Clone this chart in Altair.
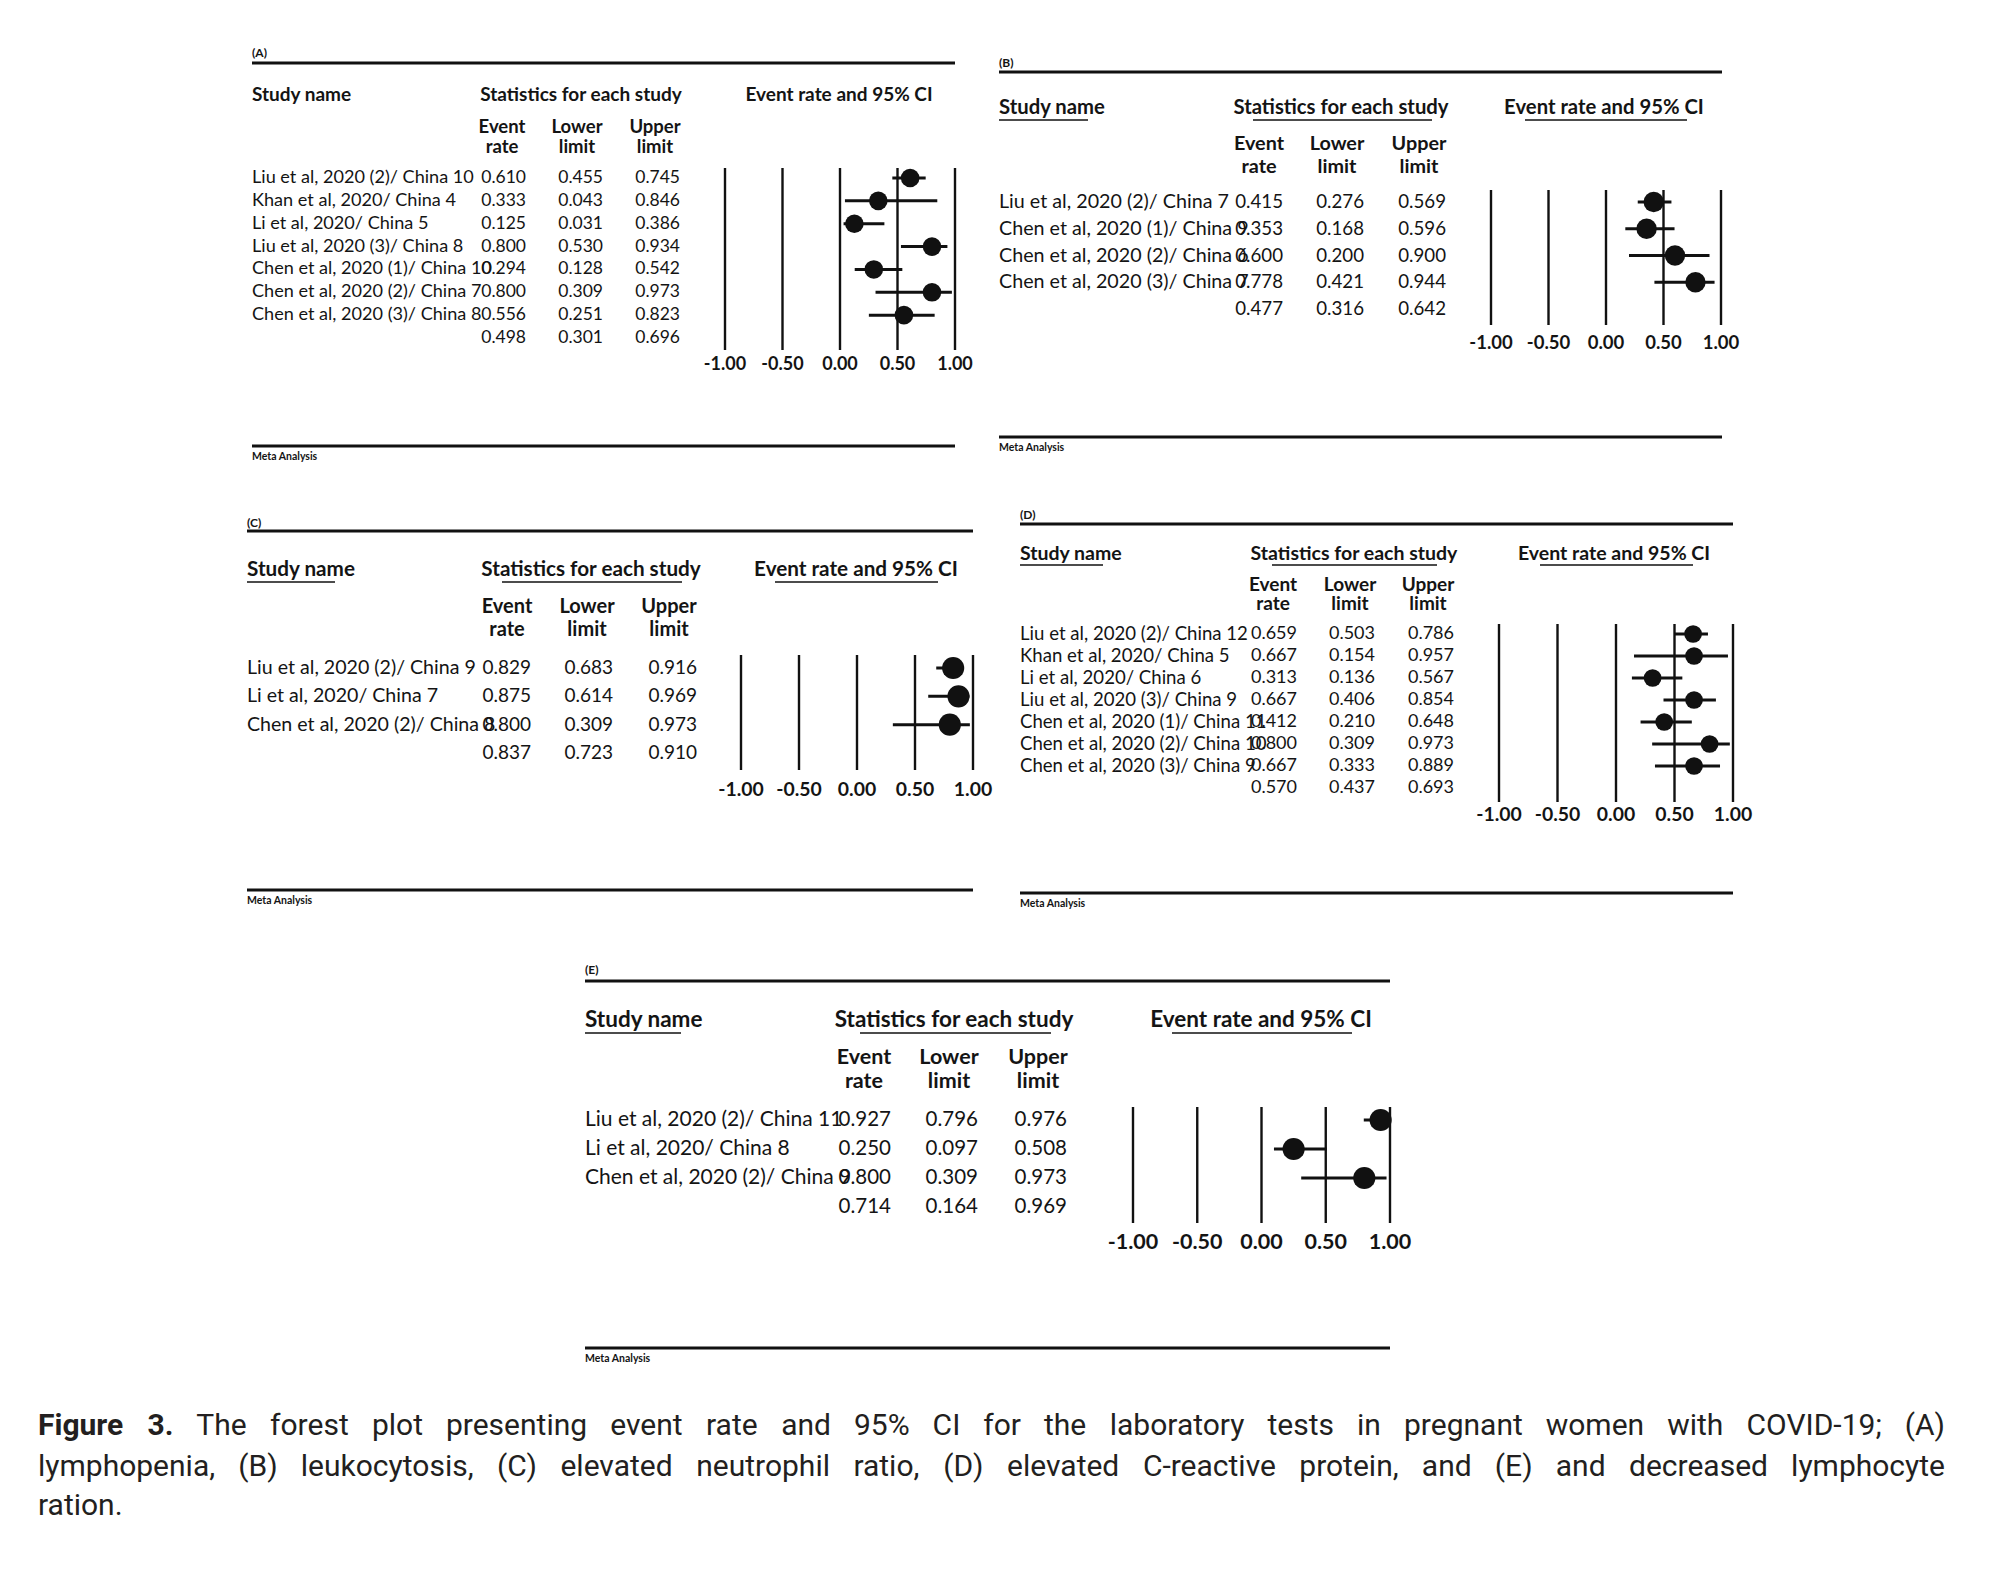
import altair as alt
import pandas as pd

# ---------------- data ----------------
a_names = ["Liu et al, 2020 (2)/ China 10", "Khan et al, 2020/ China 4", "Li et al, 2020/ China 5",
           "Liu et al, 2020 (3)/ China 8", "Chen et al, 2020 (1)/ China 10", "Chen et al, 2020 (2)/ China 7",
           "Chen et al, 2020 (3)/ China 8"]
a_est = [0.610, 0.333, 0.125, 0.800, 0.294, 0.800, 0.556]
a_lo = [0.455, 0.043, 0.031, 0.530, 0.128, 0.309, 0.251]
a_hi = [0.745, 0.846, 0.386, 0.934, 0.542, 0.973, 0.823]
a_sum = [0.498, 0.301, 0.696]

b_names = ["Liu et al, 2020 (2)/ China 7", "Chen et al, 2020 (1)/ China 9", "Chen et al, 2020 (2)/ China 6",
           "Chen et al, 2020 (3)/ China 7"]
b_est = [0.415, 0.353, 0.600, 0.778]
b_lo = [0.276, 0.168, 0.200, 0.421]
b_hi = [0.569, 0.596, 0.900, 0.944]
b_sum = [0.477, 0.316, 0.642]

c_names = ["Liu et al, 2020 (2)/ China 9", "Li et al, 2020/ China 7", "Chen et al, 2020 (2)/ China 8"]
c_est = [0.829, 0.875, 0.800]
c_lo = [0.683, 0.614, 0.309]
c_hi = [0.916, 0.969, 0.973]
c_sum = [0.837, 0.723, 0.910]

d_names = ["Liu et al, 2020 (2)/ China 12", "Khan et al, 2020/ China 5", "Li et al, 2020/ China 6",
           "Liu et al, 2020 (3)/ China 9", "Chen et al, 2020 (1)/ China 11", "Chen et al, 2020 (2)/ China 10",
           "Chen et al, 2020 (3)/ China 9"]
d_est = [0.659, 0.667, 0.313, 0.667, 0.412, 0.800, 0.667]
d_lo = [0.503, 0.154, 0.136, 0.406, 0.210, 0.309, 0.333]
d_hi = [0.786, 0.957, 0.567, 0.854, 0.648, 0.973, 0.889]
d_sum = [0.570, 0.437, 0.693]

e_names = ["Liu et al, 2020 (2)/ China 11", "Li et al, 2020/ China 8", "Chen et al, 2020 (2)/ China 9"]
e_est = [0.927, 0.250, 0.800]
e_lo = [0.796, 0.097, 0.309]
e_hi = [0.976, 0.508, 0.973]
e_sum = [0.714, 0.164, 0.969]

tick_values = [-1.0, -0.5, 0.0, 0.5, 1.0]
tick_labels = ["-1.00", "-0.50", "0.00", "0.50", "1.00"]

caption_bold = "Figure 3."
caption_lines = [
    "The forest plot presenting event rate and 95% CI for the laboratory tests in pregnant women with COVID-19; (A)",
    "lymphopenia, (B) leukocytosis, (C) elevated neutrophil ratio, (D) elevated C-reactive protein, and (E) and decreased lymphocyte",
    "ration.",
]

# ---------------- layout ----------------
FONT = "Lato"
TXT = "#141414"
INK = "#111111"
M = 8  # page margin


def P(v):
    return v - M


ONE = pd.DataFrame({"k": [0]})


def txt(s, x, y, size, bold=False, align="left", font=FONT, color=TXT):
    return alt.Chart(ONE).mark_text(
        text=s, align=align, baseline="middle", font=font, fontSize=size,
        fontWeight="bold" if bold else "normal", color=color
    ).encode(x=alt.value(P(x)), y=alt.value(P(y)))


def hline(x1, x2, y, w):
    return alt.Chart(ONE).mark_rule(color=INK, strokeWidth=w).encode(
        x=alt.value(P(x1)), x2=alt.value(P(x2)), y=alt.value(P(y)))


def panel(cfg, names, est, lo, hi, summ):
    n = len(names)
    df = pd.DataFrame({
        "row": list(range(n + 1)),
        "name": names + [""],
        "est": est + [summ[0]],
        "lo": lo + [summ[1]],
        "hi": hi + [summ[2]],
    })
    studies = df.iloc[:n]
    yscale = alt.Scale(domain=[0, n], range=[P(cfg["row0"]), P(cfg["row0"] + n * cfg["dy"])])
    xscale = alt.Scale(domain=[-1, 1], range=[P(cfg["xm1"]), P(cfg["xp1"])])
    Y = alt.Y("row:Q", scale=yscale, axis=None)
    layers = []
    # frame
    layers.append(txt(cfg["label"], cfg["left"], cfg["label_y"], 12, bold=True))
    layers.append(hline(cfg["left"], cfg["right"], cfg["top"], 3))
    layers.append(hline(cfg["left"], cfg["right"], cfg["bottom"], 3))
    layers.append(txt("Meta Analysis", cfg["left"], cfg["bottom"] + 11, 10.5, bold=True))
    # headers
    hy = cfg["head_y"]
    hs = cfg["hs"]
    layers.append(txt("Study name", cfg["left"], hy, hs, bold=True))
    layers.append(txt("Statistics for each study", cfg["stat_c"], hy, hs, bold=True, align="center"))
    layers.append(txt("Event rate and 95% CI", cfg["ci_c"], hy, hs, bold=True, align="center"))
    if cfg.get("ul"):
        uy = cfg["ul_y"]
        for (u1, u2) in cfg["ul"]:
            layers.append(hline(u1, u2, uy, 1.5))
    for (t1, t2, cx) in [("Event", "rate", cfg["col_c"][0]), ("Lower", "limit", cfg["col_c"][1]),
                         ("Upper", "limit", cfg["col_c"][2])]:
        layers.append(txt(t1, cx, cfg["sub_y"][0], cfg["ss"], bold=True, align="center"))
        layers.append(txt(t2, cx, cfg["sub_y"][1], cfg["ss"], bold=True, align="center"))
    # table body
    base = alt.Chart(df)
    layers.append(base.mark_text(align="left", baseline="middle", font=FONT, fontSize=cfg["ns"],
                                 color=TXT).encode(x=alt.value(P(cfg["left"])), y=Y, text="name:N"))
    for fld, xr in zip(["est", "lo", "hi"], cfg["col_r"]):
        layers.append(base.mark_text(align="right", baseline="middle", font=FONT, fontSize=cfg["fs"],
                                     color=TXT).encode(
            x=alt.value(P(xr)), y=Y, text=alt.Text(f"{fld}:Q", format=".3f")))
    # forest reference lines and tick labels
    ticks = pd.DataFrame({"t": tick_values, "lab": tick_labels})
    layers.append(alt.Chart(ticks).mark_rule(color=INK, strokeWidth=2.4).encode(
        x=alt.X("t:Q", scale=xscale, axis=None), y=alt.value(P(cfg["vl_top"])), y2=alt.value(P(cfg["vl_bot"]))))
    layers.append(alt.Chart(ticks).mark_text(align="center", baseline="middle", font=FONT, fontSize=cfg["ts"],
                                             fontWeight="bold", color=TXT).encode(
        x=alt.X("t:Q", scale=xscale, axis=None), y=alt.value(P(cfg["tick_y"])), text="lab:N"))
    # CIs and points
    sb = alt.Chart(studies)
    layers.append(sb.mark_rule(color=INK, strokeWidth=3).encode(
        x=alt.X("lo:Q", scale=xscale, axis=None), x2="hi:Q", y=Y))
    d = cfg["dot"]
    layers.append(sb.mark_circle(color=INK, opacity=1, size=3.1416 * (d / 2) ** 2).encode(
        x=alt.X("est:Q", scale=xscale, axis=None), y=Y))
    # summary diamond
    hh = (cfg["dia_h"] / 2) / cfg["dy"]
    dia = pd.DataFrame({"x": [summ[1], summ[0], summ[2]],
                        "y1": [n, n - hh, n], "y2": [n, n + hh, n], "o": [0, 1, 2]})
    layers.append(alt.Chart(dia).mark_area(color=INK, opacity=1).encode(
        x=alt.X("x:Q", scale=xscale, axis=None), y=alt.Y("y1:Q", scale=yscale, axis=None), y2="y2:Q",
        order="o:Q"))
    return alt.layer(*layers)


cfgA = dict(label="(A)", left=252, right=955, label_y=53, top=63, bottom=446, head_y=95,
            stat_c=581, ci_c=839, col_c=[502, 577, 655], sub_y=[127, 147], col_r=[526, 603, 680],
            row0=178, dy=22.86, xm1=725, xp1=955, vl_top=168, vl_bot=350, tick_y=365,
            fs=17.5, ns=18.1, hs=19, ss=18.5, ts=18, dot=21, dia_h=20)
cfgB = dict(label="(B)", left=999, right=1722, label_y=63, top=72, bottom=437, head_y=108,
            stat_c=1341, ci_c=1604, col_c=[1259, 1337, 1419], sub_y=[144, 167], col_r=[1283, 1364, 1446],
            row0=202, dy=26.75, xm1=1491, xp1=1721, vl_top=190, vl_bot=325, tick_y=343,
            fs=18.7, ns=19.7, hs=20.3, ss=19.8, ts=18.5, dot=23, dia_h=22, ul_y=120,
            ul=[(999, 1088), (1253, 1432), (1525, 1687)])
cfgC = dict(label="(C)", left=247, right=973, label_y=523, top=531, bottom=890, head_y=570,
            stat_c=591, ci_c=856, col_c=[507, 587, 669], sub_y=[607, 630], col_r=[531, 613, 697],
            row0=668, dy=28.33, xm1=741, xp1=973, vl_top=655, vl_bot=770, tick_y=790,
            fs=19, ns=19.6, hs=20.7, ss=20, ts=19.4, dot=25, dia_h=23, ul_y=582,
            ul=[(247, 335), (502, 682), (775, 938)])
cfgD = dict(label="(D)", left=1020, right=1733, label_y=515, top=524, bottom=893, head_y=554,
            stat_c=1354, ci_c=1614, col_c=[1273, 1350, 1428], sub_y=[585, 604], col_r=[1297, 1375, 1454],
            row0=634, dy=22.0, xm1=1499, xp1=1733, vl_top=624, vl_bot=802, tick_y=815,
            fs=18, ns=18.6, hs=19.5, ss=19, ts=19.4, dot=20, dia_h=17, ul_y=565,
            ul=[(1020, 1103), (1272, 1437), (1540, 1693)])
cfgE = dict(label="(E)", left=585, right=1390, label_y=970, top=981, bottom=1348, head_y=1020,
            stat_c=954, ci_c=1261, col_c=[864, 949, 1038], sub_y=[1058, 1082], col_r=[891, 978, 1067],
            row0=1120, dy=29.0, xm1=1133, xp1=1390, vl_top=1107, vl_bot=1223, tick_y=1243,
            fs=20.5, ns=21.0, hs=22.5, ss=21.5, ts=21.5, dot=25, dia_h=25, ul_y=1033,
            ul=[(585, 681), (860, 1051), (1172, 1352)])

pA = panel(cfgA, a_names, a_est, a_lo, a_hi, a_sum)
pB = panel(cfgB, b_names, b_est, b_lo, b_hi, b_sum)
pC = panel(cfgC, c_names, c_est, c_lo, c_hi, c_sum)
pD = panel(cfgD, d_names, d_est, d_lo, d_hi, d_sum)
pE = panel(cfgE, e_names, e_est, e_lo, e_hi, e_sum)

# ---------------- caption (justified lines) ----------------
CAP_FONT = "Roboto"
CAP_SIZE = 30
CAP_COL = "#231f20"
CAP_L, CAP_R = 38, 1945

ROBOTO_W = {
    " ": 0.248, "a": 0.544, "b": 0.561, "c": 0.523, "d": 0.564, "e": 0.530, "f": 0.347, "g": 0.561,
    "h": 0.551, "i": 0.243, "j": 0.239, "k": 0.507, "l": 0.243, "m": 0.876, "n": 0.552, "o": 0.570,
    "p": 0.561, "q": 0.566, "r": 0.338, "s": 0.516, "t": 0.327, "u": 0.551, "v": 0.484, "w": 0.751,
    "x": 0.496, "y": 0.473, "z": 0.496, "A": 0.652, "B": 0.623, "C": 0.651, "D": 0.656, "E": 0.568,
    "F": 0.552, "I": 0.272, "O": 0.687, "V": 0.637, "T": 0.611, ",": 0.196, ".": 0.263, ";": 0.212,
    "(": 0.342, ")": 0.348, "%": 0.732, "-": 0.276,
}


def est_w(word, bold=False):
    w = sum(ROBOTO_W.get(ch, 0.561 if ch.isdigit() else 0.55) for ch in word) * CAP_SIZE
    return w * (1.04 if bold else 1.0)


def justified(words, y):
    """words: list of (text, bold). Left half anchored left, right half anchored right."""
    widths = [est_w(w, b) for w, b in words]
    gap = (CAP_R - CAP_L - sum(widths)) / (len(words) - 1)
    out = []
    half = len(words) // 2
    x = CAP_L
    for i in range(half):
        w, b = words[i]
        out.append(txt(w, x, y, CAP_SIZE, bold=b, font=CAP_FONT, color=CAP_COL))
        x += widths[i] + gap
    xr = CAP_R
    for i in range(len(words) - 1, half - 1, -1):
        w, b = words[i]
        out.append(txt(w, xr, y, CAP_SIZE, bold=b, align="right", font=CAP_FONT, color=CAP_COL))
        xr -= widths[i] + gap
    return out


line1 = [(w, True) for w in caption_bold.split()] + [(w, False) for w in caption_lines[0].split()]
line2 = [(w, False) for w in caption_lines[1].split()]
cap_layers = justified(line1, 1426) + justified(line2, 1467) + [
    txt(caption_lines[2], CAP_L, 1506, CAP_SIZE, font=CAP_FONT, color=CAP_COL)]
cap = alt.layer(*cap_layers)

chart = alt.layer(pA, pB, pC, pD, pE, cap).resolve_scale(
    x="independent", y="independent"
).properties(
    width=1984, height=1558, padding=0,
    autosize=alt.AutoSizeParams(type="none"),
).configure(background="white").configure_view(stroke=None, strokeWidth=0)

chart.save("out.html", embed_options={"renderer": "svg", "actions": False})
